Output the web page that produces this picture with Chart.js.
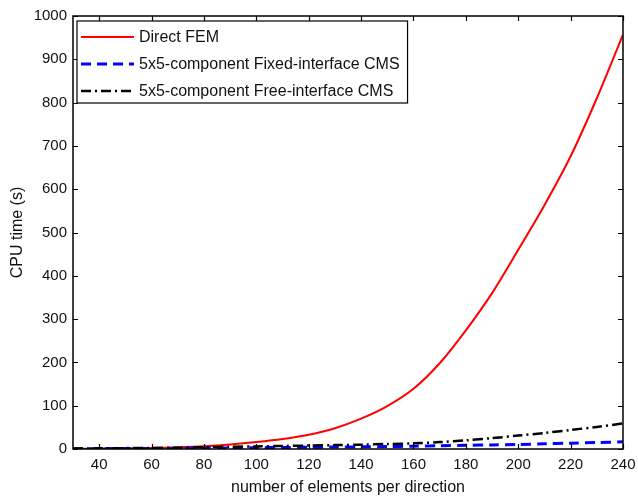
<!DOCTYPE html>
<html>
<head>
<meta charset="utf-8">
<script src="https://cdn.jsdelivr.net/npm/chart.js@4/dist/chart.umd.min.js"></script>
<style>
  html, body { margin: 0; padding: 0; background: #fff; }
</style>
</head>
<body>
<canvas id="cpu" width="638" height="498"></canvas>
<script>
// number of elements per direction
const elements = [30, 40, 50, 60, 70, 80, 90, 100, 110, 120, 130, 140, 150, 160, 170, 180, 190, 200, 210, 220, 230, 240];
// CPU time (s) per method
const directFem = [0.5, 1, 1.5, 2.5, 4, 6.5, 10.5, 16, 23, 33, 48, 70, 99, 139, 198, 274, 360, 460, 563, 676, 810, 957];
const fixedCms = [0.5, 0.8, 1, 1.2, 1.5, 2, 2.5, 3, 3.5, 4, 4.5, 5, 5.5, 6.5, 7.5, 8.5, 9.5, 10.5, 12, 13.5, 15, 16.5];
const freeCms = [1, 1.5, 2, 2.5, 3, 4, 5, 6, 7, 8, 9, 10, 11.5, 13, 16, 20, 25, 31, 37, 44, 51, 59];

const xTicks = [40, 60, 80, 100, 120, 140, 160, 180, 200, 220, 240];
const yTicks = [0, 100, 200, 300, 400, 500, 600, 700, 800, 900, 1000];

const seriesNames = [
  'Direct FEM',
  '5x5-component Fixed-interface CMS',
  '5x5-component Free-interface CMS'
];

const FONT = '"Liberation Sans", Arial, Helvetica, sans-serif';
const TEXT = '#111';

const toPoints = ys => elements.map((x, i) => ({ x, y: ys[i] }));

// axes box with inward tick marks on all four sides, plus the legend box
const frame = {
  id: 'frame',
  afterDatasetsDraw(chart) {
    const { ctx, chartArea: a, scales } = chart;
    const tl = 5;
    ctx.save();
    ctx.strokeStyle = '#000';
    ctx.lineWidth = 1.2;
    ctx.beginPath();
    xTicks.forEach(v => {
      const px = Math.round(scales.x.getPixelForValue(v)) + 0.5;
      ctx.moveTo(px, a.bottom); ctx.lineTo(px, a.bottom - tl);
      ctx.moveTo(px, a.top); ctx.lineTo(px, a.top + tl);
    });
    yTicks.forEach(v => {
      const py = Math.round(scales.y.getPixelForValue(v)) + 0.5;
      ctx.moveTo(a.left, py); ctx.lineTo(a.left + tl, py);
      ctx.moveTo(a.right, py); ctx.lineTo(a.right - tl, py);
    });
    ctx.stroke();
    ctx.lineWidth = 1.5;
    ctx.strokeRect(a.left, a.top, a.right - a.left, a.bottom - a.top);

    // legend
    ctx.font = '16px ' + FONT;
    const textW = Math.max(...seriesNames.map(n => ctx.measureText(n).width));
    const lx = a.left + 4, ly = a.top + 5;
    const sampleW = 53, gap = 5, rowH = 27;
    const boxW = 4 + sampleW + gap + textW + 8;
    const boxH = rowH * seriesNames.length + 1;
    ctx.fillStyle = '#fff';
    ctx.fillRect(lx, ly, boxW, boxH);
    ctx.lineWidth = 1.2;
    ctx.strokeStyle = '#000';
    ctx.strokeRect(lx, ly, boxW, boxH);
    chart.data.datasets.forEach((ds, i) => {
      const cy = ly + 16 + i * rowH;
      ctx.save();
      ctx.strokeStyle = ds.borderColor;
      ctx.lineWidth = ds.borderWidth;
      ctx.setLineDash(ds.borderDash || []);
      ctx.beginPath();
      ctx.moveTo(lx + 4, cy);
      ctx.lineTo(lx + 4 + sampleW, cy);
      ctx.stroke();
      ctx.restore();
      ctx.fillStyle = TEXT;
      ctx.textBaseline = 'middle';
      ctx.fillText(seriesNames[i], lx + 4 + sampleW + gap, cy + 1);
    });
    ctx.restore();
  }
};

new Chart(document.getElementById('cpu'), {
  type: 'line',
  data: {
    datasets: [
      {
        label: seriesNames[0],
        data: toPoints(directFem),
        borderColor: '#ff0000',
        borderWidth: 2,
        borderDash: [],
        order: 3
      },
      {
        label: seriesNames[1],
        data: toPoints(fixedCms),
        borderColor: '#0000ff',
        borderWidth: 3,
        borderDash: [10, 6],
        order: 2
      },
      {
        label: seriesNames[2],
        data: toPoints(freeCms),
        borderColor: '#000000',
        borderWidth: 2.5,
        borderDash: [10, 4, 2, 4],
        order: 1
      }
    ]
  },
  options: {
    responsive: false,
    animation: false,
    elements: { point: { radius: 0 }, line: { tension: 0.3 } },
    layout: { padding: { top: 16, right: 15, left: 0, bottom: 0 } },
    plugins: {
      legend: { display: false },
      tooltip: { enabled: false }
    },
    scales: {
      x: {
        type: 'linear',
        min: 30,
        max: 240,
        afterBuildTicks: s => { s.ticks = xTicks.map(v => ({ value: v })); },
        afterFit: s => { s.height = 49; s.paddingRight = 0; },
        grid: { display: false, drawTicks: false },
        border: { display: false },
        ticks: { color: TEXT, font: { family: FONT, size: 15 }, padding: 7, maxRotation: 0, callback: v => String(v) },
        title: {
          display: true,
          text: 'number of elements per direction',
          color: TEXT,
          font: { family: FONT, size: 16 },
          padding: { top: 0, bottom: 1 }
        }
      },
      y: {
        min: 0,
        max: 1000,
        afterBuildTicks: s => { s.ticks = yTicks.map(v => ({ value: v })); },
        afterFit: s => { s.width = 73; },
        grid: { display: false, drawTicks: false },
        border: { display: false },
        ticks: { color: TEXT, font: { family: FONT, size: 15 }, padding: 6, callback: v => String(v) },
        title: {
          display: true,
          text: 'CPU time (s)',
          color: TEXT,
          font: { family: FONT, size: 16 },
          padding: { top: 8, bottom: 0 }
        }
      }
    }
  },
  plugins: [frame]
});
</script>
</body>
</html>
